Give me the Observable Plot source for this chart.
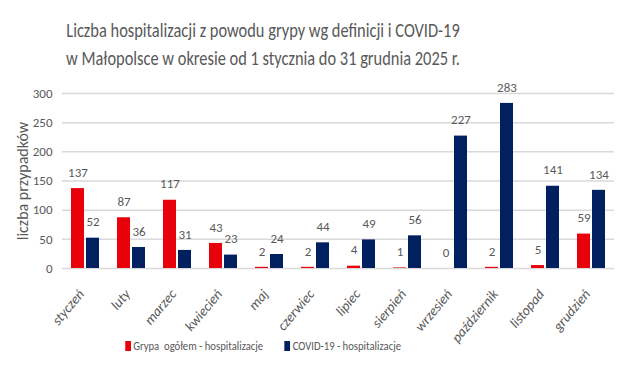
<!DOCTYPE html>
<html>
<head>
<meta charset="utf-8">
<script src="https://cdn.jsdelivr.net/npm/d3@7"></script>
<script src="https://cdn.jsdelivr.net/npm/@observablehq/plot@0.6"></script>
<style>
  html, body { margin: 0; padding: 0; background: #fff; }
  body { width: 618px; height: 367px; overflow: hidden; font-family: "Carlito", "Liberation Sans Narrow", "Open Sans", sans-serif; color: #595959; }
  #title { width: 526px; text-align: center; font-size: 20px; line-height: 28px; padding-top: 16px; height: 59px; color: #595959; transform: scaleX(0.82); transform-origin: 263px 0; white-space: nowrap; }
  #chart svg { overflow: visible; }
  #chart svg text { font-family: "Carlito", "Liberation Sans Narrow", "Open Sans", sans-serif; fill: #595959; }
  #chart g[aria-label="fx-axis tick label"] text { font-style: italic; }
  #legend { width: 526px; display: flex; justify-content: center; gap: 26px; font-size: 13px; margin-top: -2px; transform: scaleX(0.82); transform-origin: 263px 0; }
  #legend span.sw { display: inline-block; width: 7px; height: 10px; margin-right: 3px; vertical-align: -1px; }
</style>
</head>
<body>
<div id="title">Liczba hospitalizacji z powodu grypy wg definicji i COVID-19<br>w Małopolsce w okresie od 1 stycznia do 31 grudnia 2025 r.</div>
<div id="chart"></div>
<div id="legend"></div>
<script>
const months = ["styczeń","luty","marzec","kwiecień","maj","czerwiec","lipiec","sierpień","wrzesień","październik","listopad","grudzień"];
const grypa = [137, 87, 117, 43, 2, 2, 4, 1, 0, 2, 5, 59];
const covid = [52, 36, 31, 23, 24, 44, 49, 56, 227, 283, 141, 134];
const seriesNames = ["Grypa  ogółem - hospitalizacje", "COVID-19 - hospitalizacje"];
const colors = ["#e8000b", "#002060"];
const yTicks = [0, 50, 100, 150, 200, 250, 300];

const data = months.flatMap((m, i) => [
  {month: m, series: seriesNames[0], value: grypa[i]},
  {month: m, series: seriesNames[1], value: covid[i]}
]);

const chart = Plot.plot({
  width: 618,
  height: 265,
  marginTop: 18,
  marginBottom: 72,
  marginLeft: 60,
  marginRight: 2,
  style: {fontSize: "13px", background: "transparent"},
  fx: {domain: months, padding: 0, label: null},
  x: {domain: seriesNames, paddingInner: 0.125, paddingOuter: 0.51, axis: null},
  y: {domain: [0, 300], ticks: yTicks, label: null},
  color: {domain: seriesNames, range: colors},
  marks: [
    Plot.gridY(yTicks, {stroke: "#d9d9d9", strokeOpacity: 1, strokeWidth: 1.5}),
    Plot.barY(data, {fx: "month", x: "series", y: "value", fill: "series"}),
    Plot.text(data, {fx: "month", x: "series", y: "value", text: d => String(d.value), dy: -16, fontSize: 13}),
    Plot.axisY(yTicks, {tickSize: 0, tickPadding: 10, fontSize: 13, label: null}),
    Plot.axisY({tickSize: 0, ticks: [], fontSize: 16, label: "liczba przypadków", labelAnchor: "center", labelArrow: "none", labelOffset: 46}),
    Plot.axisFx({anchor: "bottom", tickRotate: -50, tickSize: 0, tickPadding: 23, dx: -4, fontSize: 14, label: null})
  ]
});
document.getElementById("chart").appendChild(chart);

const legend = document.getElementById("legend");
seriesNames.forEach((s, i) => {
  const item = document.createElement("div");
  const sw = document.createElement("span");
  sw.className = "sw";
  sw.style.background = colors[i];
  item.appendChild(sw);
  item.appendChild(document.createTextNode(s));
  item.style.whiteSpace = "pre";
  legend.appendChild(item);
});
</script>
</body>
</html>
